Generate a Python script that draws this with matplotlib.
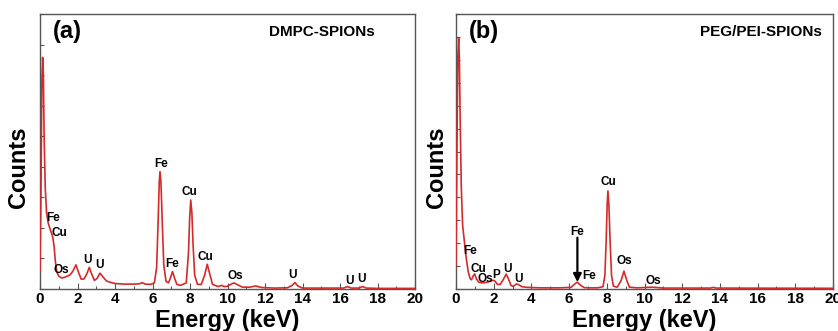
import matplotlib
matplotlib.use("Agg")
import matplotlib.pyplot as plt
from matplotlib.ticker import MultipleLocator

plt.rcParams['font.family'] = ['Liberation Sans', 'DejaVu Sans']
plt.rcParams['font.weight'] = 'bold'

# ---------------- data ----------------
energy_a = [0.00, 0.05, 0.10, 0.14, 0.18, 0.22, 0.28, 0.35, 0.44, 0.52, 0.60, 0.68, 0.75, 0.82, 0.90,
            1.00, 1.16, 1.30, 1.45, 1.60, 1.75, 1.92, 2.05, 2.20, 2.35, 2.50, 2.63, 2.75, 2.90, 3.05,
            3.20, 3.35, 3.55, 3.80, 4.00, 4.50, 5.00, 5.30, 5.45, 5.60, 5.90, 6.10, 6.22, 6.30, 6.36,
            6.40, 6.45, 6.52, 6.60, 6.72, 6.85, 6.95, 7.07, 7.18, 7.30, 7.50, 7.80, 7.92, 7.98, 8.04,
            8.10, 8.16, 8.25, 8.40, 8.60, 8.78, 8.92, 9.05, 9.20, 9.50, 9.70, 9.80, 10.0, 10.2, 10.35,
            10.5, 10.8, 11.2, 11.5, 11.8, 12.5, 13.2, 13.45, 13.6, 13.75, 14.0, 15.0, 16.2, 16.4, 16.6,
            17.0, 17.2, 17.4, 18.0, 20.0]
counts_a = [0.6, 3.0, 6.8, 7.58, 7.0, 5.0, 3.3, 2.5, 2.15, 2.0, 1.85, 1.7, 1.4, 0.9, 0.55,
            0.42, 0.36, 0.38, 0.42, 0.46, 0.58, 0.79, 0.55, 0.32, 0.33, 0.5, 0.71, 0.5, 0.28, 0.35,
            0.52, 0.4, 0.26, 0.21, 0.18, 0.16, 0.16, 0.17, 0.21, 0.16, 0.15, 0.2, 0.7, 2.2, 3.5,
            3.84, 3.5, 2.2, 0.8, 0.25, 0.2, 0.35, 0.57, 0.35, 0.15, 0.12, 0.2, 1.2, 2.3, 2.91,
            2.5, 1.5, 0.45, 0.15, 0.15, 0.45, 0.81, 0.5, 0.15, 0.08, 0.12, 0.08, 0.09, 0.16, 0.2,
            0.15, 0.06, 0.06, 0.1, 0.05, 0.03, 0.04, 0.12, 0.21, 0.1, 0.03, 0.03, 0.03, 0.08, 0.03,
            0.03, 0.08, 0.03, 0.02, 0.02]

energy_b = [0.00, 0.05, 0.10, 0.14, 0.18, 0.22, 0.28, 0.35, 0.46, 0.55, 0.65, 0.75, 0.82, 0.90, 0.99,
            1.08, 1.20, 1.35, 1.55, 1.75, 1.95, 2.05, 2.20, 2.35, 2.50, 2.66, 2.78, 2.92, 3.05, 3.20,
            3.30, 3.50, 3.80, 4.50, 5.50, 6.10, 6.30, 6.44, 6.58, 6.80, 7.10, 7.50, 7.80, 7.90, 7.97,
            8.02, 8.06, 8.11, 8.17, 8.25, 8.35, 8.55, 8.75, 8.91, 9.05, 9.20, 9.60, 10.4, 11.0, 13.5,
            13.65, 13.8, 20.0]
counts_b = [1.0, 6.0, 10.2, 10.96, 10.0, 7.5, 4.5, 2.8, 1.95, 1.3, 0.75, 0.45, 0.4, 0.55, 0.66,
            0.45, 0.3, 0.27, 0.28, 0.32, 0.38, 0.36, 0.2, 0.2, 0.4, 0.65, 0.45, 0.15, 0.12, 0.22,
            0.2, 0.1, 0.07, 0.05, 0.05, 0.07, 0.22, 0.3, 0.18, 0.06, 0.05, 0.05, 0.1, 0.6, 2.2,
            3.7, 4.28, 3.7, 2.2, 0.6, 0.12, 0.08, 0.35, 0.78, 0.4, 0.08, 0.05, 0.08, 0.04, 0.04,
            0.07, 0.04, 0.03]

labels_a = ["Fe", "Cu", "Os", "U", "U", "Fe", "Fe", "Cu", "Cu", "Os", "U", "U", "U"]
label_x_a = [0.71, 1.03, 1.16, 2.52, 3.16, 6.44, 7.04, 7.95, 8.84, 10.42, 13.46, 16.48, 17.17]
label_y_a = [2.31, 1.82, 0.62, 0.95, 0.79, 4.08, 0.81, 3.18, 1.06, 0.43, 0.46, 0.27, 0.32]

labels_b = ["Fe", "Cu", "Os", "P", "U", "U", "Fe", "Fe", "Cu", "Os", "Os"]
label_x_b = [0.76, 1.17, 1.57, 2.14, 2.72, 3.33, 6.44, 7.04, 8.10, 8.95, 10.47]
label_y_b = [1.67, 0.88, 0.45, 0.62, 0.88, 0.45, 2.49, 0.55, 4.65, 1.20, 0.35]

arrow_b_x = 6.44
arrow_b_from = 2.24
arrow_b_to = 0.30

titles = ["DMPC-SPIONs", "PEG/PEI-SPIONs"]
panel_tags = ["(a)", "(b)"]
x_ticks = [0, 2, 4, 6, 8, 10, 12, 14, 16, 18, 20]

# ---------------- figure ----------------
W, H = 838, 331
fig = plt.figure(figsize=(W / 100, H / 100), dpi=100)
fig.patch.set_facecolor('white')

ax_a = fig.add_axes([40 / W, (H - 289) / H, 375 / W, 275 / H])
ax_b = fig.add_axes([456 / W, (H - 289) / H, 377 / W, 275 / H])

line_color = '#d42a2a'
spine_color = '#555555'

panels = [
    (ax_a, energy_a, counts_a, labels_a, label_x_a, label_y_a, 9),
    (ax_b, energy_b, counts_b, labels_b, label_x_b, label_y_b, 12),
]

title_x = [0.752, 0.81]
ylabel_x = [-0.027, -0.021]

for i, (ax, ex, cy, lbl, lx, ly, ytop) in enumerate(panels):
    ax.plot(ex, cy, color=line_color, lw=1.2, zorder=3)
    ax.set_xlim(0, 20)
    ax.set_ylim(0, ytop)
    ax.set_xticks(x_ticks)
    ax.set_xticklabels([str(t) for t in x_ticks], fontsize=11, fontweight='bold')
    ax.xaxis.set_minor_locator(MultipleLocator(1))
    ax.yaxis.set_major_locator(MultipleLocator(1))
    ax.set_yticklabels([])
    ax.tick_params(axis='both', which='both', direction='in', top=False, right=False,
                   color=spine_color, width=0.8)
    ax.tick_params(axis='x', which='major', length=4, pad=2.5)
    ax.tick_params(axis='x', which='minor', length=2.5)
    ax.tick_params(axis='y', which='major', length=3, labelleft=False)
    for s in ax.spines.values():
        s.set_color(spine_color)
        s.set_linewidth(1.0)
    for t, x, y in zip(lbl, lx, ly):
        ax.text(x, y, t, ha='center', va='center', fontsize=8.5, fontweight='bold', zorder=4)
    ax.text(0.033, 0.935, panel_tags[i], transform=ax.transAxes, ha='left', va='center',
            fontsize=17, fontweight='bold')
    ax.text(title_x[i], 0.935, titles[i], transform=ax.transAxes,
            ha='center', va='center', fontsize=11, fontweight='bold')
    ax.set_xlabel("Energy (keV)", fontsize=17, fontweight='bold')
    ax.set_ylabel("Counts", fontsize=17, fontweight='bold')
    ax.xaxis.set_label_coords(0.5, -0.071)
    ax.yaxis.set_label_coords(ylabel_x[i], 0.443)

ax_b.annotate("", xy=(arrow_b_x, arrow_b_to), xytext=(arrow_b_x, arrow_b_from),
              arrowprops=dict(arrowstyle='-|>', color='black', lw=1.6, mutation_scale=12,
                              shrinkA=0, shrinkB=0), zorder=5)

fig.savefig("out.png", dpi=100)
